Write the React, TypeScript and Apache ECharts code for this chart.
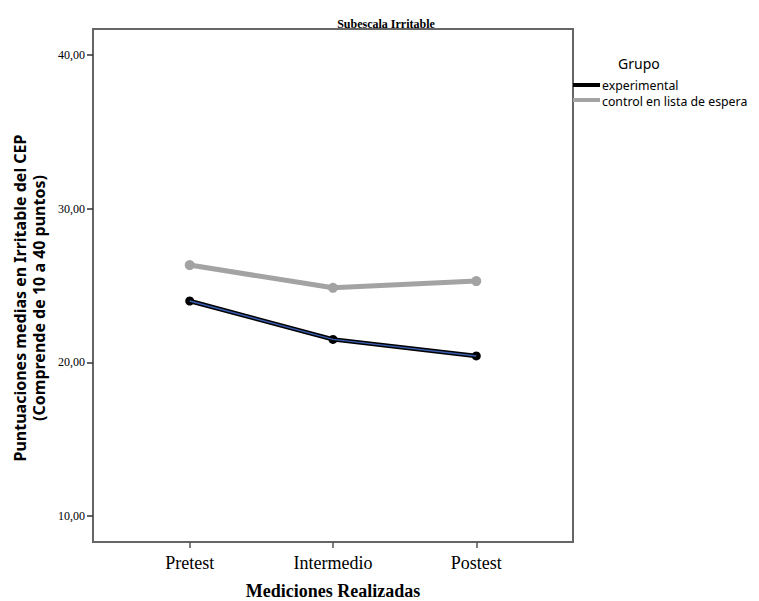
import React, { useEffect, useRef } from "react";
import * as echarts from "echarts";

const categories = ["Pretest", "Intermedio", "Postest"];
const experimental = [23.99, 21.49, 20.41];
const control = [26.33, 24.85, 25.29];
const yTicks = [10, 20, 30, 40];
const groupNames = ["experimental", "control en lista de espera"];
const groupColors = ["#000000", "#a3a3a3"];

export default function App() {
  const ref = useRef<HTMLDivElement>(null);
  useEffect(() => {
    if (!ref.current) return;
    const chart = echarts.init(ref.current, null, { renderer: "svg" });
    const serif = "'Liberation Serif', 'Times New Roman', serif";
    const sans = "'Noto Sans', 'DejaVu Sans', sans-serif";
    const toPts = (arr: number[]) => arr.map((v, i) => [i, v]);
    const legendItems: any[] = [];
    groupNames.forEach((name, i) => {
      legendItems.push({
        type: "rect",
        shape: { x: 573, y: 83 + i * 15, width: 27, height: 4 },
        style: { fill: groupColors[i] },
      });
      legendItems.push({
        type: "text",
        x: 602,
        y: 85 + i * 16.5,
        style: {
          text: name,
          fontFamily: sans,
          fontSize: 12.3,
          fill: "#000",
          verticalAlign: "middle",
          align: "left",
        },
      });
    });
    chart.setOption({
      animation: false,
      backgroundColor: "#ffffff",
      title: {
        text: "Subescala Irritable",
        left: 381,
        top: 13,
        textAlign: "center",
        textStyle: { fontFamily: serif, fontWeight: "bold", fontSize: 12, color: "#000" },
      },
      grid: {
        left: 93,
        top: 29,
        right: 186,
        bottom: 59,
        outerBoundsMode: "none",
        containLabel: false,
        show: true,
        borderColor: "#666",
        borderWidth: 2,
        backgroundColor: "transparent",
      },
      graphic: [
        {
          type: "text",
          left: 618,
          top: 56,
          style: { text: "Grupo", fontFamily: sans, fontSize: 14, fill: "#000" },
        },
        ...legendItems,
        {
          type: "text",
          x: 10,
          y: 298,
          rotation: Math.PI / 2,
          style: {
            text: "Puntuaciones medias en Irritable del CEP\n(Comprende de 10 a 40 puntos)",
            fontFamily: sans,
            fontWeight: "bold",
            fontSize: 16,
            lineHeight: 19,
            fill: "#000",
            align: "center",
            verticalAlign: "top",
          },
          originX: 0,
          originY: 0,
        },
      ],
      xAxis: {
        type: "value",
        min: -0.675,
        max: 2.675,
        name: "Mediciones Realizadas",
        nameLocation: "middle",
        nameGap: 40,
        nameTextStyle: { fontFamily: serif, fontWeight: "bold", fontSize: 18, color: "#000" },
        splitLine: { show: false },
        axisLine: { show: true, onZero: false, lineStyle: { color: "#666", width: 2 } },
        axisTick: { show: true, customValues: [0, 1, 2], length: 6, lineStyle: { color: "#555", width: 1.5 } },
        axisLabel: {
          customValues: [0, 1, 2],
          formatter: (v: number) => categories[Math.round(v)] ?? "",
          fontFamily: serif,
          fontSize: 18,
          color: "#000",
          margin: 12,
        },
      },
      yAxis: {
        type: "value",
        min: 8.29,
        max: 41.71,
        splitLine: { show: false },
        axisLine: { show: true, onZero: false, lineStyle: { color: "#666", width: 2 } },
        axisTick: { show: true, customValues: yTicks, length: 6, lineStyle: { color: "#333", width: 1.5 } },
        axisLabel: {
          customValues: yTicks,
          formatter: (v: number) => v.toFixed(2).replace(".", ","),
          fontFamily: serif,
          fontSize: 12,
          color: "#000",
          margin: 8,
        },
      },
      series: [
        {
          name: groupNames[1],
          type: "line",
          data: toPts(control),
          symbol: "circle",
          symbolSize: 10,
          lineStyle: { color: groupColors[1], width: 5 },
          itemStyle: { color: groupColors[1] },
          z: 2,
        },
        {
          name: groupNames[0],
          type: "line",
          data: toPts(experimental),
          symbol: "circle",
          symbolSize: 9,
          lineStyle: { color: groupColors[0], width: 4.5 },
          itemStyle: { color: groupColors[0] },
          z: 3,
        },
        {
          name: "experimental-core",
          type: "line",
          data: toPts(experimental),
          showSymbol: false,
          silent: true,
          lineStyle: { color: "#3a5fb0", width: 1.5 },
          z: 4,
        },
      ],
    });
    return () => chart.dispose();
  }, []);
  return (
    <div
      ref={ref}
      style={{ position: "fixed", left: 0, top: 0, width: 759, height: 601, background: "#fff" }}
    />
  );
}
